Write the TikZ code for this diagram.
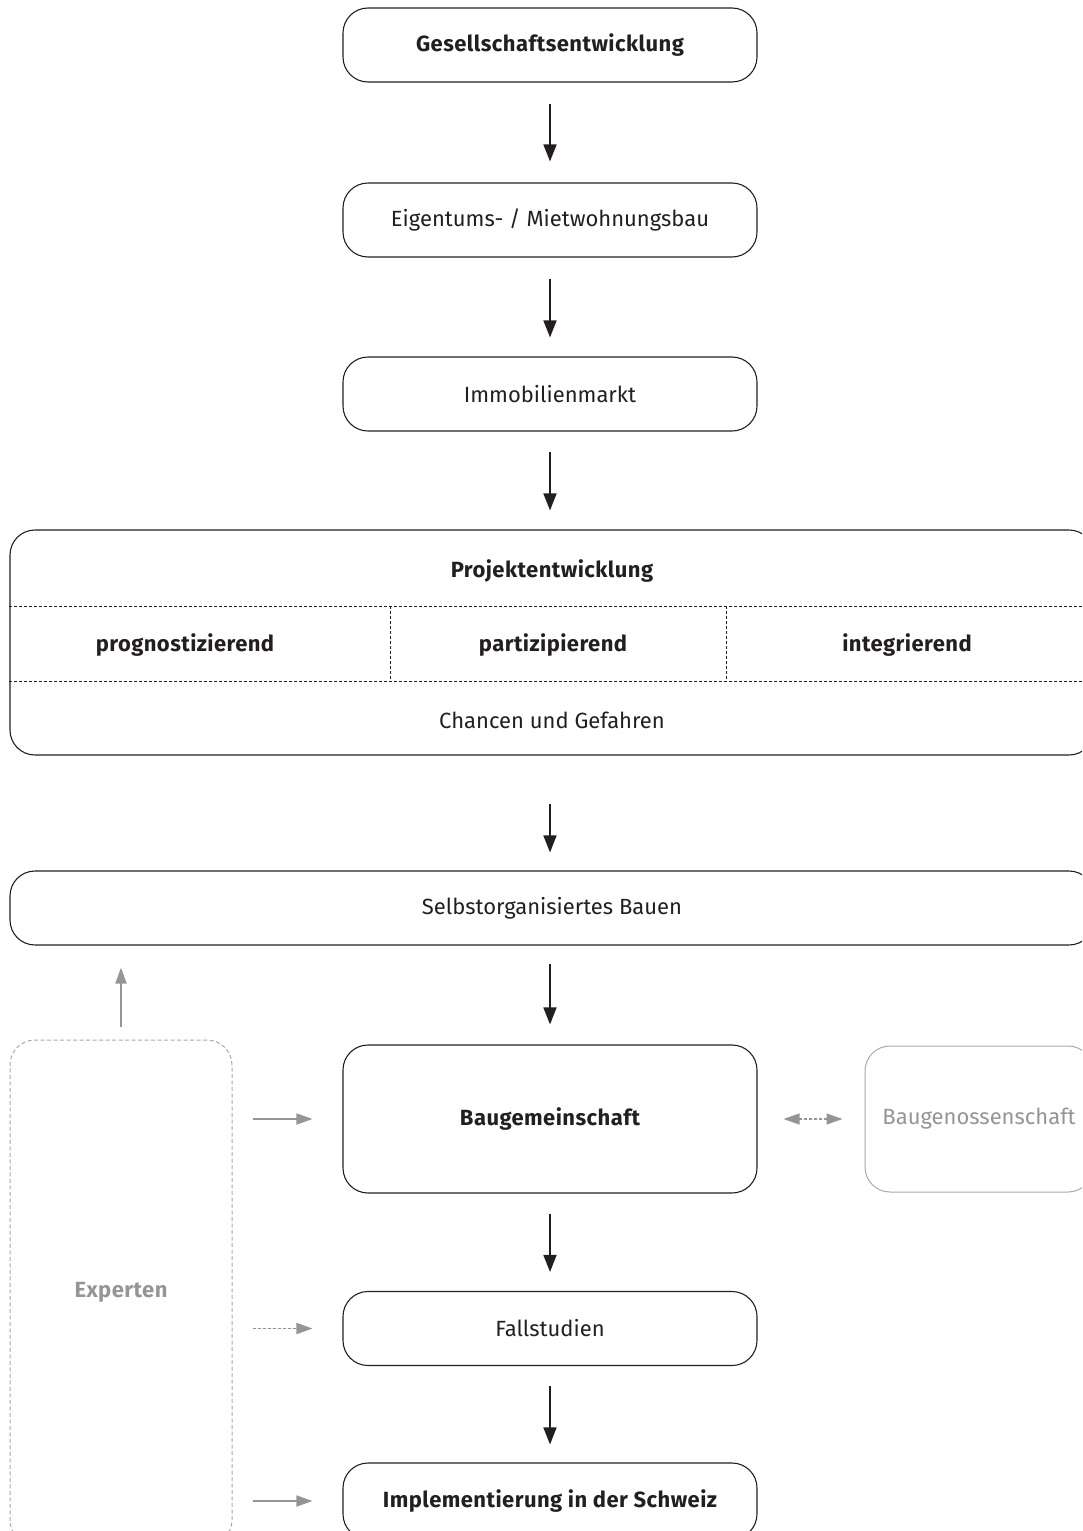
\documentclass[tikz,border=0pt]{standalone}
\usepackage{fontspec}
\setmainfont{Fira Sans}[BoldFeatures={LetterSpace=2}]
\usetikzlibrary{arrows.meta,positioning}
\definecolor{inkdark}{HTML}{231F20}
\definecolor{arrowgrey}{HTML}{939598}
\definecolor{boxgrey}{HTML}{A7A9AC}
\definecolor{textgrey}{HTML}{939598}
\tikzset{
  box/.style={draw=inkdark, line width=1.1pt, rounded corners=25pt,
    minimum width=414pt, minimum height=74pt, text=inkdark,
    font=\fontsize{22}{26}\selectfont},
  widebox/.style={box, minimum width=1084pt},
  strong/.style={font=\fontsize{22}{26}\selectfont\bfseries},
  label/.style={text=inkdark, font=\fontsize{22}{26}\selectfont},
  boldlabel/.style={label, strong},
  sep/.style={draw=inkdark, line width=0.8pt, dash pattern=on 3pt off 2pt},
  arr/.style={-{Triangle[length=17pt,width=13pt]}, line width=1.7pt, draw=inkdark},
  helper/.style={-{Triangle[length=16pt,width=11pt]}, line width=1.8pt,
    draw=arrowgrey, fill=arrowgrey}
}
\begin{document}
\begin{tikzpicture}[x=1pt,y=-1pt]
  \useasboundingbox (0,0) rectangle (1082,1531);
  \clip (0,0) rectangle (1082,1531);

  % main chain
  \node[box, strong] (ges) at (550,45) {Gesellschaftsentwicklung};
  \node[box] (eig) at (550,220) {Eigentums- / Mietwohnungsbau};
  \node[box] (immo) at (550,394) {Immobilienmarkt};

  % Projektentwicklung block
  \node[widebox, minimum height=225pt] (proj) at (552,642.5) {};
  \node[boldlabel] (projtitle) at (552,571) {Projektentwicklung};
  \node[boldlabel] (prog) at (185,645) {prognostizierend};
  \node[boldlabel] (part) at (553,645) {partizipierend};
  \node[boldlabel] (integ) at (907,645) {integrierend};
  \node[label] (chance) at (552,720) {Chancen und Gefahren};
  \draw[sep] (proj.west |- 0,606) -- (proj.east |- 0,606);
  \draw[sep] (proj.west |- 0,681) -- (proj.east |- 0,681);
  \draw[sep] (390,606) -- (390,681);
  \draw[sep] (726,606) -- (726,681);

  \node[widebox] (selbst) at (552,908) {Selbstorganisiertes Bauen};
  \node[box, strong, minimum height=148pt] (bauge) at (550,1119) {Baugemeinschaft};
  \node[box, draw=boxgrey, line width=1pt, text=textgrey, minimum width=228pt, minimum height=146pt] (baugen) at (979,1119) {Baugenossenschaft};
  \node[box] (fall) at (550,1328.5) {Fallstudien};
  \node[box, strong, minimum height=76pt] (impl) at (550,1501) {Implementierung in der Schweiz};

  % Experten
  \node[box, strong, draw=boxgrey, line width=1pt, dash pattern=on 4pt off 2.5pt, text=textgrey,
    minimum width=222pt, minimum height=505pt] (expert) at (121,1292.5) {Experten};

  % arrows
  \draw[arr, shorten <=21pt, shorten >=21pt] (ges) -- (eig);
  \draw[arr, shorten <=21pt, shorten >=19pt] (eig) -- (immo);
  \draw[arr, shorten <=20pt, shorten >=19pt] (immo) -- (immo |- proj.north);
  \draw[arr, shorten <=48pt, shorten >=18pt] (proj.south -| immo) -- (selbst.north -| immo);
  \draw[arr, shorten <=18pt, shorten >=20pt] (selbst.south -| immo) -- (bauge);
  \draw[arr, shorten <=20pt, shorten >=19pt] (bauge) -- (fall);
  \draw[arr, shorten <=20pt, shorten >=18pt] (fall) -- (impl);

  \draw[helper, shorten <=13pt, shorten >=22pt] (expert.north) -- (expert.north |- selbst.south);
  \draw[helper, shorten <=20pt, shorten >=30pt] (expert.east |- bauge) -- (bauge);
  \draw[helper, dash pattern=on 3pt off 2pt, shorten <=20pt, shorten >=30pt] (expert.east |- fall) -- (fall);
  \draw[helper, shorten <=20pt, shorten >=30pt] (expert.east |- impl) -- (impl);
  \draw[helper, {Triangle[length=16pt,width=11pt]}-{Triangle[length=16pt,width=11pt]},
    line width=1.3pt, dash pattern=on 3pt off 2pt, shorten <=26pt, shorten >=22pt] (bauge) -- (baugen);
\end{tikzpicture}
\end{document}
